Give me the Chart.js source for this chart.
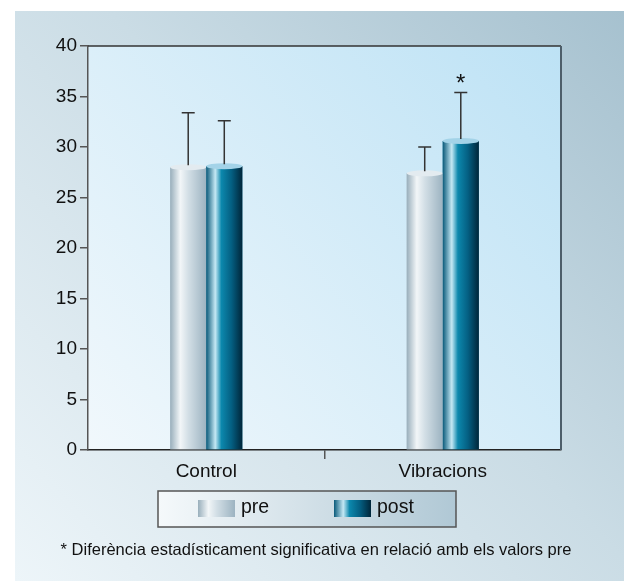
<!DOCTYPE html>
<html>
<head>
<meta charset="utf-8">
<script src="https://cdn.jsdelivr.net/npm/chart.js@4/dist/chart.umd.min.js"></script>
<style>
  html, body { margin: 0; padding: 0; background: #fff; }
  #wrap { width: 624px; height: 581px; }
</style>
</head>
<body>
<div id="wrap"><canvas id="myChart" width="624" height="581"></canvas></div>
<script>
var categories = ["Control", "Vibracions"];
var preValues = [28.0, 27.4];
var postValues = [28.1, 30.6];
var preErrors = [5.4, 2.6];
var postErrors = [4.5, 4.8];
var postMarks = ["", "*"];
var footnote = "* Diferència estadísticament significativa en relació amb els valors pre";

var FONT = "'Liberation Sans', Arial, sans-serif";

function preGradient(ctx, x0, x1) {
    var g = ctx.createLinearGradient(x0, 0, x1, 0);
    g.addColorStop(0, "#98aebb");
    g.addColorStop(0.28, "#f2f6f8");
    g.addColorStop(0.5, "#d3dfe6");
    g.addColorStop(1, "#9cb3c1");
    return g;
}

function postGradient(ctx, x0, x1) {
    var g = ctx.createLinearGradient(x0, 0, x1, 0);
    g.addColorStop(0, "#0a5a7a");
    g.addColorStop(0.25, "#c4e8f4");
    g.addColorStop(0.42, "#0c88ad");
    g.addColorStop(0.7, "#045f82");
    g.addColorStop(1, "#00263a");
    return g;
}

var errors = [preErrors, postErrors];
var gradients = [preGradient, postGradient];
var capColors = ["#e3ebf0", "#a3d3e8"];

// background panel + plot area
var backdrop = {
    id: "backdrop",
    beforeDraw: function (chart) {
        var ctx = chart.ctx, a = chart.chartArea;
        ctx.save();
        var g = ctx.createLinearGradient(624, 11, 15, 581);
        g.addColorStop(0, "#a6c1cf");
        g.addColorStop(0.45, "#cadce5");
        g.addColorStop(1, "#edf5f9");
        ctx.fillStyle = g;
        ctx.fillRect(15, 11, 609, 570);

        var p = ctx.createLinearGradient(a.right, a.top, a.left, a.bottom);
        p.addColorStop(0, "#bde2f5");
        p.addColorStop(1, "#f1f8fc");
        ctx.fillStyle = p;
        ctx.fillRect(a.left, a.top, a.right - a.left, a.bottom - a.top);
        ctx.restore();
    },
    afterDraw: function (chart) {
        var ctx = chart.ctx, a = chart.chartArea;
        ctx.save();
        ctx.strokeStyle = "#333";
        ctx.lineWidth = 1.5;
        ctx.beginPath();
        ctx.moveTo(a.left, a.top);
        ctx.lineTo(a.right, a.top);
        ctx.stroke();
        ctx.strokeStyle = "#4d5e6a";
        ctx.lineWidth = 2;
        ctx.beginPath();
        ctx.moveTo(a.right, a.top);
        ctx.lineTo(a.right, a.bottom);
        ctx.stroke();

        // legend box
        var lg = ctx.createLinearGradient(158, 0, 456, 0);
        lg.addColorStop(0, "#f5f9fb");
        lg.addColorStop(1, "#b0c8d5");
        ctx.fillStyle = lg;
        ctx.fillRect(158, 491, 298, 36);
        ctx.strokeStyle = "#555";
        ctx.lineWidth = 1.5;
        ctx.strokeRect(158, 491, 298, 36);
        var items = [[198, 0], [334, 1]];
        ctx.font = "19.5px " + FONT;
        ctx.textBaseline = "middle";
        ctx.textAlign = "left";
        items.forEach(function (it) {
            var x = it[0], ds = chart.data.datasets[it[1]];
            ctx.fillStyle = gradients[it[1]](ctx, x, x + 37);
            ctx.fillRect(x, 500, 37, 17);
            ctx.fillStyle = "#111";
            ctx.fillText(ds.label, x + 43, 508);
        });

        ctx.font = "16.5px " + FONT;
        ctx.textAlign = "center";
        ctx.fillStyle = "#111";
        ctx.fillText(footnote, 316, 550);
        ctx.restore();
    }
};

// cylinder bars, error bars and marks
var cylinders = {
    id: "cylinders",
    afterDatasetsDraw: function (chart) {
        var ctx = chart.ctx, yScale = chart.scales.y;
        ctx.save();
        chart.data.datasets.forEach(function (ds, di) {
            var meta = chart.getDatasetMeta(di);
            meta.data.forEach(function (bar, i) {
                var p = bar.getProps(["x", "y", "base", "width"], true);
                var x0 = p.x - p.width / 2, x1 = p.x + p.width / 2;
                ctx.fillStyle = gradients[di](ctx, x0, x1);
                ctx.fillRect(x0, p.y, p.width, p.base - p.y);
                ctx.fillStyle = capColors[di];
                ctx.beginPath();
                ctx.ellipse(p.x, p.y, p.width / 2, 3, 0, 0, Math.PI * 2);
                ctx.fill();

                var top = yScale.getPixelForValue(ds.data[i] + errors[di][i]);
                ctx.strokeStyle = "#333";
                ctx.lineWidth = 1.5;
                ctx.beginPath();
                ctx.moveTo(p.x, p.y - 2);
                ctx.lineTo(p.x, top);
                ctx.moveTo(p.x - 6.5, top);
                ctx.lineTo(p.x + 6.5, top);
                ctx.stroke();

                if (di === 1 && postMarks[i]) {
                    ctx.fillStyle = "#111";
                    ctx.font = "24px " + FONT;
                    ctx.textAlign = "center";
                    ctx.textBaseline = "middle";
                    ctx.fillText(postMarks[i], p.x, top - 8);
                }
            });
        });
        ctx.restore();
    }
};

new Chart("myChart", {
    type: "bar",
    data: {
        labels: categories,
        datasets: [
            { label: "pre", data: preValues, backgroundColor: "#c5d5de" },
            { label: "post", data: postValues, backgroundColor: "#0a6f94" }
        ]
    },
    options: {
        responsive: false,
        animation: false,
        layout: { padding: { left: 0, top: 46, right: 63, bottom: 0 } },
        datasets: { bar: { barPercentage: 1, categoryPercentage: 0.305 } },
        plugins: {
            legend: { display: false },
            tooltip: { enabled: false }
        },
        scales: {
            x: {
                afterFit: function (scale) { scale.height = 131; },
                grid: {
                    offset: true,
                    drawOnChartArea: false,
                    tickLength: 9,
                    lineWidth: 1.5,
                    color: function (c) { return c.index === 1 ? "#555" : "rgba(0,0,0,0)"; }
                },
                border: { color: "#222", width: 1.5 },
                ticks: { color: "#111", font: { family: FONT, size: 19 }, padding: 1 }
            },
            y: {
                min: 0,
                max: 40,
                afterFit: function (scale) { scale.width = 88; },
                grid: { drawOnChartArea: false, tickLength: 8, color: "#555", lineWidth: 1.5 },
                border: { color: "#555", width: 1.5 },
                ticks: { stepSize: 5, color: "#111", font: { family: FONT, size: 19 }, padding: 3 }
            }
        }
    },
    plugins: [backdrop, cylinders]
});
</script>
</body>
</html>
